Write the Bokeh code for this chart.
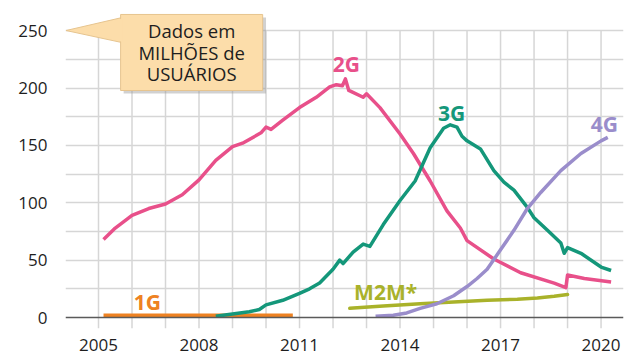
from bokeh.plotting import figure
from bokeh.models import FixedTicker, Range1d, Span
from bokeh.core.properties import value
from bokeh.embed import file_html
from bokeh.resources import INLINE

# ---- data (millions of users) ----
g2_years = [2005.15, 2005.5, 2006.0, 2006.5, 2007.0, 2007.5, 2008.0, 2008.5, 2009.0, 2009.3,
            2009.85, 2010.0, 2010.15, 2010.5, 2011.0, 2011.5, 2011.9, 2012.1, 2012.28, 2012.37,
            2012.47, 2012.9, 2013.0, 2013.4, 2014.0, 2014.4, 2014.9, 2015.4, 2015.8, 2016.0,
            2016.8, 2017.6, 2018.6, 2018.95, 2019.0, 2019.5, 2020.3]
g2_vals = [68, 78, 89, 95, 99, 107, 120, 137, 149, 152,
           161, 166, 164, 172, 183, 192, 201, 203, 202, 208,
           198, 192, 195, 183, 160, 143, 119, 93, 78, 67,
           51, 39, 30, 26, 37, 34, 31]

g3_years = [2008.5, 2009.0, 2009.5, 2009.8, 2010.0, 2010.5, 2011.0, 2011.3, 2011.6, 2012.0,
            2012.2, 2012.3, 2012.6, 2012.9, 2013.1, 2013.5, 2014.0, 2014.45, 2014.9, 2015.3,
            2015.5, 2015.7, 2015.85, 2016.0, 2016.4, 2016.8, 2017.1, 2017.4, 2017.8, 2018.0,
            2018.4, 2018.8, 2018.9, 2019.0, 2019.4, 2020.0, 2020.3]
g3_vals = [1, 3, 5, 7, 11, 15, 21, 25, 30, 42,
           50, 47, 57, 64, 62, 81, 102, 119, 148, 165,
           168, 166, 158, 154, 147, 128, 118, 111, 96, 87,
           76, 65, 56, 61, 56, 44, 41]

g4_years = [2013.27, 2013.8, 2014.2, 2014.6, 2015.1, 2015.6, 2016.0, 2016.3, 2016.6, 2017.0,
            2017.4, 2017.8, 2018.2, 2018.8, 2019.4, 2020.0, 2020.2]
g4_vals = [1, 2, 4, 8, 12, 19, 27, 34, 42, 59,
           76, 95, 109, 128, 143, 154, 157]

g1_years = [2005.15, 2010.8]
g1_vals = [2, 2]

m2m_years = [2012.5, 2013.5, 2014.6, 2015.6, 2016.6, 2017.5, 2018.1, 2018.6, 2019.0]
m2m_vals = [8, 10, 12, 13.5, 15, 16, 17, 18.5, 20]

x_ticks = [2005, 2008, 2011, 2014, 2017, 2020]
grid_years = list(range(2005, 2021))
y_ticks = [0, 50, 100, 150, 200, 250]
y_grid = [25, 50, 75, 100, 125, 150, 175, 200, 225, 250]

PINK = "#E8508A"
GREEN = "#14977A"
PURPLE = "#9A8DCB"
ORANGE = "#EE8222"
OLIVE = "#A9B22A"

FONT = "Open Sans"

p = figure(width=640, height=360, output_backend="svg", toolbar_location=None,
           x_range=Range1d(2004.015, 2020.67), y_range=Range1d(-9.59, 269.4),
           min_border_left=65, min_border_right=17, min_border_top=8, min_border_bottom=32)
p.outline_line_color = None
p.background_fill_color = "white"

# grid
p.xgrid.visible = False
p.ygrid.ticker = FixedTicker(ticks=y_grid)
p.ygrid.grid_line_color = "#D6D6D6"
p.ygrid.grid_line_width = 1.5
p.segment(x0=grid_years, y0=[-9.59] * len(grid_years), x1=grid_years, y1=[250] * len(grid_years),
          line_color="#D6D6D6", line_width=1.5)
p.add_layout(Span(location=0, dimension="width", line_color="#5a5a5a", line_width=1.5))

# axes
p.xaxis.ticker = FixedTicker(ticks=x_ticks)
p.yaxis.ticker = FixedTicker(ticks=y_ticks)
for ax in (p.xaxis, p.yaxis):
    ax.axis_line_color = None
    ax.major_tick_line_color = None
    ax.minor_tick_line_color = None
    ax.major_label_text_font = FONT
    ax.major_label_text_font_size = "17px"
    ax.major_label_text_color = "#1e1e1e"
p.xaxis.major_label_standoff = 4
p.yaxis.major_label_standoff = 12

# series
p.line(g1_years, g1_vals, line_color=ORANGE, line_width=3.5)
p.line(m2m_years, m2m_vals, line_color=OLIVE, line_width=3.5, line_cap="round")
p.line(g2_years, g2_vals, line_color=PINK, line_width=3.5, line_join="round")
p.line(g3_years, g3_vals, line_color=GREEN, line_width=3.5, line_join="round")
p.line(g4_years, g4_vals, line_color=PURPLE, line_width=3.5, line_join="round")

# series labels
lbl = dict(text_font=value(FONT), text_font_style="bold", text_font_size="21px",
           text_align="center", text_baseline="middle")
p.text([2012.40], [220.6], text=["2G"], text_color=PINK, **lbl)
p.text([2015.54], [178.2], text=["3G"], text_color=GREEN, **lbl)
p.text([2020.10], [168.3], text=["4G"], text_color=PURPLE, **lbl)
p.text([2006.46], [13.1], text=["1G"], text_color=ORANGE, **lbl)
p.text([2013.57], [21.8], text=["M2M*"], text_color=OLIVE, **lbl)

# callout
BOX = "#FCDDAA"
p.quad(left=[2005.75], right=[2010.0], top=[261.6], bottom=[195.3], fill_color="#9a9a9a",
       fill_alpha=0.45, line_color=None)
p.patch([2004.03, 2005.7, 2005.7], [250.2, 261.5, 239.7], fill_color=BOX, line_color="#e6c48f",
        line_width=1)
p.quad(left=[2005.66], right=[2009.9], top=[264.2], bottom=[197.9], fill_color=BOX,
       line_color="#e6c48f", line_width=1)
p.patch([2004.6, 2005.72, 2005.72], [250.2, 261.0, 240.2], fill_color=BOX, line_color=None)
box_txt = dict(text_font=value(FONT), text_font_size="18.5px", text_color="#1e1e1e",
               text_align="center", text_baseline="middle")
p.text([2007.78, 2007.78, 2007.78], [250.2, 231.0, 212.7],
       text=["Dados em", "MILHÕES de", "USUÁRIOS"], **box_txt)

open("out.html", "w").write(file_html(p, INLINE))
